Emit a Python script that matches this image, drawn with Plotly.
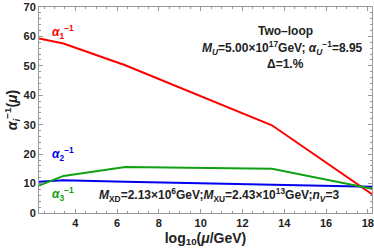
import plotly.graph_objects as go

mu = [2.26, 3.43, 6.39, 13.41, 18.2]
a1 = [59.3, 57.6, 50.2, 29.8, 6.4]
a2 = [10.6, 11.1, 10.6, 9.7, 8.9]
a3 = [9.3, 12.6, 15.6, 15.0, 8.2]

xticks = [4, 6, 8, 10, 12, 14, 16, 18]
yticks = [0, 10, 20, 30, 40, 50, 60, 70]

fig = go.Figure()
fig.add_trace(go.Scatter(x=mu, y=a1, mode="lines", line=dict(color="#ff0000", width=2)))
fig.add_trace(go.Scatter(x=mu, y=a2, mode="lines", line=dict(color="#0000ee", width=2)))
fig.add_trace(go.Scatter(x=mu, y=a3, mode="lines", line=dict(color="#11a011", width=2)))

font = "Liberation Sans, Arial, sans-serif"
axcommon = dict(
    showgrid=False, zeroline=False, showline=True, linecolor="#999999", linewidth=1,
    mirror="allticks", ticks="inside", ticklen=4, tickcolor="#999999", automargin=False,
    tickfont=dict(family=font, size=11, color="#222222", weight="bold"),
)
fig.update_xaxes(range=[2.26, 18.2], tickvals=xticks, **axcommon,
                 minor=dict(dtick=0.5, ticks="inside", ticklen=2, tickcolor="#999999"),
                 title=dict(text="log<sub>10</sub>(<i>μ</i>/GeV)", standoff=4,
                            font=dict(family=font, size=14, color="#222222", weight="bold")))
fig.update_yaxes(range=[0, 70], tickvals=yticks, **axcommon,
                 minor=dict(dtick=2, ticks="inside", ticklen=2, tickcolor="#999999"),
                 title=dict(text="<i>α<sub>i</sub></i><sup>−1</sup>(<i>μ</i>)", standoff=2,
                            font=dict(family=font, size=14, color="#222222", weight="bold")))

ann = [
    dict(x=63, y=32, text="<i>α</i><sub>1</sub><sup>−1</sup>", color="#ff0000", size=12),
    dict(x=63, y=154, text="<i>α</i><sub>2</sub><sup>−1</sup>", color="#0000ee", size=12),
    dict(x=63, y=194, text="<i>α</i><sub>3</sub><sup>−1</sup>", color="#11a011", size=12),
    dict(x=285, y=31, text="Two–loop", color="#222222", size=12),
    dict(x=282, y=48, text="<i>M<sub>U</sub></i>=5.00×10<sup>17</sup>GeV; <i>α<sub>U</sub></i><sup>−1</sup>=8.95", color="#222222", size=12),
    dict(x=285, y=64, text="Δ=1.%", color="#222222", size=12),
    dict(x=219, y=195, text="<i>M</i><sub>XD</sub>=2.13×10<sup>6</sup>GeV;<i>M</i><sub>XU</sub>=2.43×10<sup>13</sup>GeV;<i>n<sub>V</sub></i>=3", color="#222222", size=12),
]
W, H = 374, 252
L, R, T, B = 39, 2, 7, 39
for a in ann:
    fig.add_annotation(
        x=(a["x"] - L) / (W - L - R), y=1 - (a["y"] - T) / (H - T - B),
        xref="paper", yref="paper", text=a["text"], showarrow=False,
        xanchor="center", yanchor="middle",
        font=dict(family=font, size=a["size"], color=a["color"], weight="bold"))

fig.update_layout(
    width=W, height=H, margin=dict(l=L, r=R, t=T, b=B),
    plot_bgcolor="white", paper_bgcolor="white", showlegend=False,
)
fig.write_html("out.html", config={"displayModeBar": False},
               post_script="document.body.style.margin='0';document.body.style.overflow='hidden';")
